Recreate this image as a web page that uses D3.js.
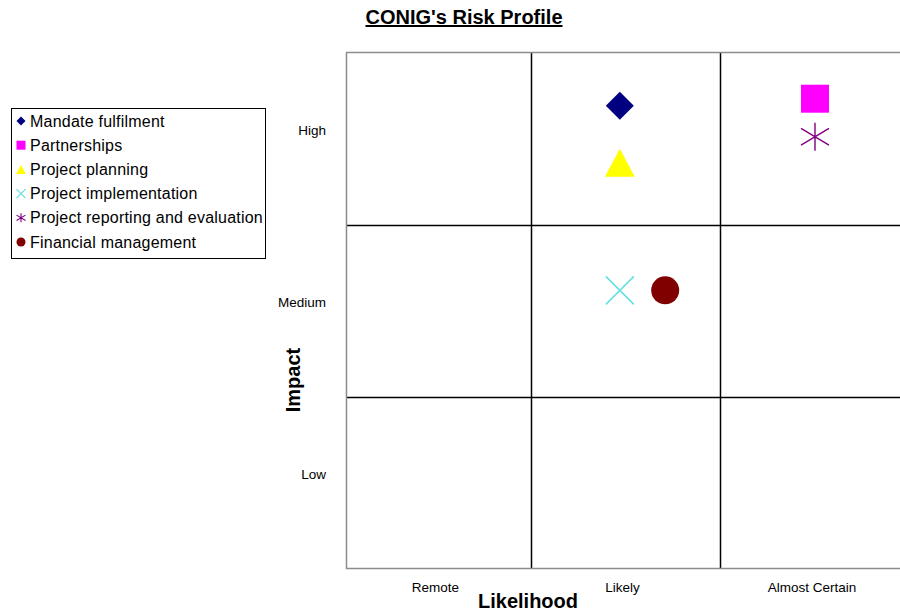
<!DOCTYPE html>
<html>
<head>
<meta charset="utf-8">
<script src="https://cdn.jsdelivr.net/npm/d3@7"></script>
<style>
    body { margin: 0; background: #fff; }
    svg { display: block; font-family: Arial, "Liberation Sans", sans-serif; }
</style>
</head>
<body>
<svg id="chart" width="900" height="613"></svg>
<script>
// categories on each axis
const likelihoodLabels = ['Remote', 'Likely', 'Almost Certain'];
const impactLabels = ['Low', 'Medium', 'High'];

// risk series (likelihood and impact, 1..3 scale)
const riskNames = ['Mandate fulfilment', 'Partnerships', 'Project planning',
    'Project implementation', 'Project reporting and evaluation', 'Financial management'];
const likelihood = [1.97, 3.0, 1.97, 1.97, 3.0, 2.21];
const impact = [3.19, 3.23, 2.86, 2.12, 3.01, 2.12];
const shapes = ['diamond', 'square', 'triangle', 'cross', 'star', 'circle'];
const colors = ['#000080', '#ff00ff', '#ffff00', '#66e0e0', '#800080', '#800000'];

let svg = d3.select('#chart');

// cell edges are not quite even in the original, hence the piecewise scales
let x = d3.scaleLinear()
    .domain([0.5, 1.5, 2.5, 3.5])
    .range([346, 531, 720, 910]);
let y = d3.scaleLinear()
    .domain([0.5, 1.5, 2.5, 3.5])
    .range([568, 397, 225, 52]);

/**
 * Appends one marker of the given shape, centred on 0,0.
 */
function drawMarker(g, shape, color, s) {
    let h = s / 2;
    if (shape === 'diamond') {
        g.append('path')
            .attr('d', d3.symbol(d3.symbolSquare, s * s / 2)())
            .attr('transform', 'rotate(45)')
            .attr('fill', color);
    } else if (shape === 'square') {
        g.append('path')
            .attr('d', d3.symbol(d3.symbolSquare, s * s)())
            .attr('fill', color);
    } else if (shape === 'triangle') {
        g.append('path')
            .attr('d', 'M0,' + (-h) + 'L' + (h * 1.07) + ',' + h + 'L' + (-h * 1.07) + ',' + h + 'Z')
            .attr('fill', color);
    } else if (shape === 'circle') {
        g.append('circle')
            .attr('r', h)
            .attr('fill', color);
    } else if (shape === 'cross') {
        g.append('path')
            .attr('d', 'M' + (-h) + ',' + (-h) + 'L' + h + ',' + h + 'M' + h + ',' + (-h) + 'L' + (-h) + ',' + h)
            .attr('stroke', color)
            .attr('stroke-width', s > 15 ? 1.6 : 1.2);
    } else if (shape === 'star') {
        g.append('path')
            .attr('d', 'M0,' + (-h) + 'L0,' + h
                + 'M' + (-h) + ',' + (-h * 0.6) + 'L' + h + ',' + (h * 0.6)
                + 'M' + h + ',' + (-h * 0.6) + 'L' + (-h) + ',' + (h * 0.6))
            .attr('stroke', color)
            .attr('stroke-width', s > 15 ? 1.4 : 1.1);
    }
}

// grid lines between cells
let gridX = [1.5, 2.5];
let gridY = [1.5, 2.5];
svg.selectAll('.vgrid')
    .data(gridX)
    .enter()
    .append('line')
    .attr('x1', d => Math.round(x(d)) + 0.5).attr('x2', d => Math.round(x(d)) + 0.5)
    .attr('y1', y(3.5)).attr('y2', y(0.5))
    .attr('stroke', '#000')
    .attr('stroke-width', 1.5);
svg.selectAll('.hgrid')
    .data(gridY)
    .enter()
    .append('line')
    .attr('x1', x(0.5)).attr('x2', x(3.5))
    .attr('y1', d => Math.round(y(d)) + 0.5).attr('y2', d => Math.round(y(d)) + 0.5)
    .attr('stroke', '#000')
    .attr('stroke-width', 1.5);

// plot frame
svg.append('rect')
    .attr('x', x(0.5) + 0.5)
    .attr('y', y(3.5) + 0.5)
    .attr('width', x(3.5) - x(0.5))
    .attr('height', y(0.5) - y(3.5))
    .attr('fill', 'none')
    .attr('stroke', '#8c8c8c')
    .attr('stroke-width', 1.5);

// category labels
svg.selectAll('.xlab')
    .data(likelihoodLabels)
    .enter()
    .append('text')
    .attr('x', (d, i) => x(i + 1) - 3)
    .attr('y', 592)
    .attr('text-anchor', 'middle')
    .attr('font-size', 13.5)
    .text(d => d);
svg.selectAll('.ylab')
    .data(impactLabels)
    .enter()
    .append('text')
    .attr('x', 326)
    .attr('y', (d, i) => y(i + 1) - 4)
    .attr('text-anchor', 'end')
    .attr('font-size', 13.5)
    .text(d => d);

// titles
svg.append('text')
    .attr('x', 464)
    .attr('y', 24)
    .attr('text-anchor', 'middle')
    .attr('font-size', 20)
    .attr('font-weight', 'bold')
    .attr('text-decoration', 'underline')
    .text("CONIG's Risk Profile");
svg.append('text')
    .attr('x', 528)
    .attr('y', 608)
    .attr('text-anchor', 'middle')
    .attr('font-size', 20)
    .attr('font-weight', 'bold')
    .text('Likelihood');
svg.append('text')
    .attr('transform', 'translate(300,380) rotate(-90)')
    .attr('text-anchor', 'middle')
    .attr('font-size', 20)
    .attr('font-weight', 'bold')
    .text('Impact');

// risk markers
svg.selectAll('.risk')
    .data(riskNames)
    .enter()
    .append('g')
    .attr('class', 'risk')
    .attr('transform', (d, i) => 'translate(' + x(likelihood[i]) + ',' + y(impact[i]) + ')')
    .each(function (d, i) { drawMarker(d3.select(this), shapes[i], colors[i], 28); });

// legend
let legend = svg.append('g').attr('transform', 'translate(11,108)');
legend.append('rect')
    .attr('x', 0.5).attr('y', 0.5)
    .attr('width', 254).attr('height', 150)
    .attr('fill', '#fff')
    .attr('stroke', '#000');
let items = legend.selectAll('.item')
    .data(riskNames)
    .enter()
    .append('g')
    .attr('transform', (d, i) => 'translate(0,' + (13 + i * 24.2) + ')');
items.append('g')
    .attr('transform', 'translate(10,0)')
    .each(function (d, i) { drawMarker(d3.select(this), shapes[i], colors[i], 9); });
items.append('text')
    .attr('x', 19)
    .attr('dy', '0.35em')
    .attr('font-size', 16)
    .attr('letter-spacing', 0.22)
    .text(d => d);
</script>
</body>
</html>
